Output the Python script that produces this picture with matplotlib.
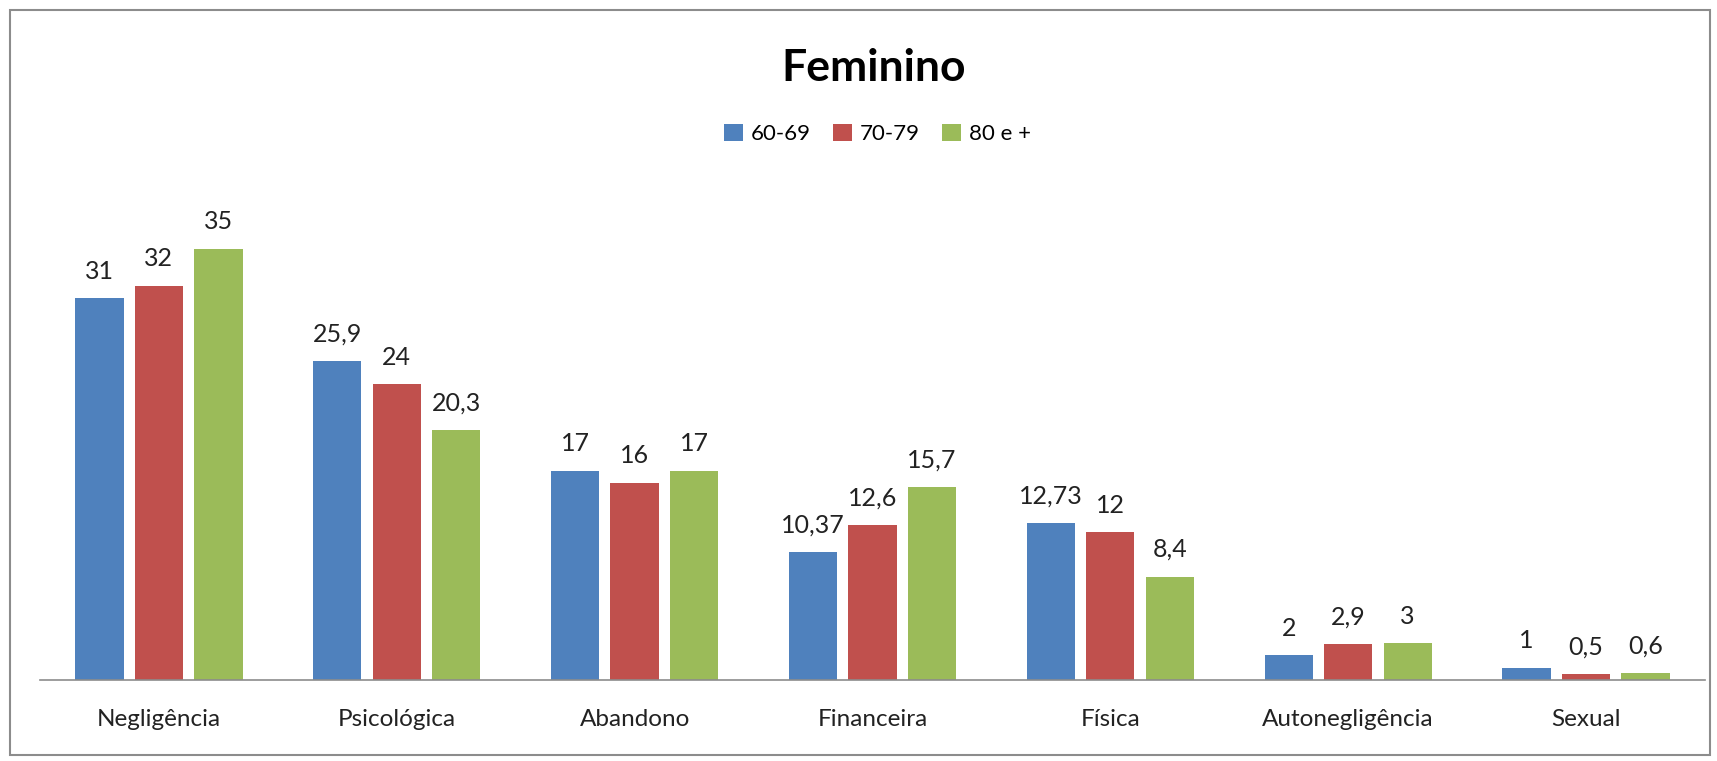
import matplotlib.pyplot as plt
import numpy as np
from matplotlib.patches import Rectangle

plt.rcParams['font.family'] = ['Lato', 'DejaVu Sans']

categorias = ['Negligência', 'Psicológica', 'Abandono', 'Financeira', 'Física', 'Autonegligência', 'Sexual']
faixas = ['60-69', '70-79', '80 e +']
v_60_69 = [31, 25.9, 17, 10.37, 12.73, 2, 1]
v_70_79 = [32, 24, 16, 12.6, 12, 2.9, 0.5]
v_80 = [35, 20.3, 17, 15.7, 8.4, 3, 0.6]
cores = ['#4F81BD', '#C0504D', '#9BBB59']

fig = plt.figure(figsize=(17.17, 7.61), dpi=100)
ax = fig.add_axes([0.0233, 0.1064, 0.9697, 0.6478])

x = np.arange(len(categorias))
largura = 0.203
passo = 0.25
for i, (serie, nome) in enumerate(zip([v_60_69, v_70_79, v_80], faixas)):
    pos = x + (i - 1) * passo
    ax.bar(pos, serie, largura, color=cores[i], label=nome)
    for xp, v in zip(pos, serie):
        ax.annotate(str(v).replace('.', ','), (xp, v), xytext=(0, 14),
                    textcoords='offset points', ha='center', va='baseline',
                    fontsize=18, color='#222222')

ax.set_xlim(-0.5, len(categorias) - 0.5)
ax.set_ylim(0, 40)
ax.set_xticks(x)
ax.set_xticklabels(categorias, fontsize=17.5, color='#222222')
ax.tick_params(axis='x', length=0, pad=21)
ax.set_yticks([])
for s in ['top', 'right', 'left']:
    ax.spines[s].set_visible(False)
ax.spines['bottom'].set_color('#8c8c8c')
ax.spines['bottom'].set_linewidth(1.2)

fig.text(0.509, 0.911, 'Feminino', ha='center', va='center', fontsize=32, fontweight='bold')
fig.legend(loc='center', bbox_to_anchor=(0.511, 0.824), ncol=3, frameon=False,
           fontsize=16, handlelength=0.85, handleheight=0.85, handletextpad=0.35,
           columnspacing=1.0)

fig.patches.append(Rectangle((0.0058, 0.0079), 0.990, 0.979, transform=fig.transFigure,
                             fill=False, edgecolor='#8c8c8c', linewidth=1.5))

fig.savefig('out.png', dpi=100)
